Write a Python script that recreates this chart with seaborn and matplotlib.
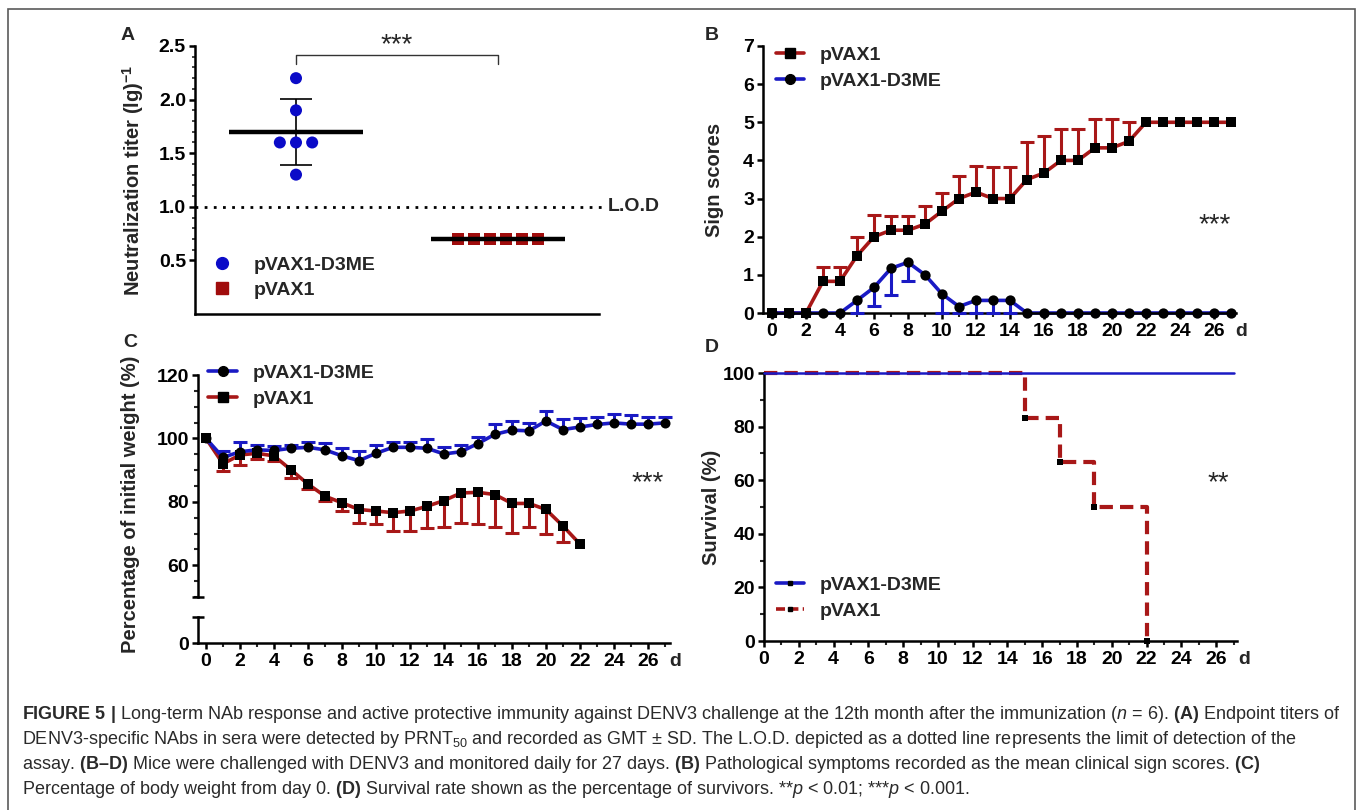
import numpy as np
import pandas as pd
import matplotlib
matplotlib.use("Agg")
import matplotlib.pyplot as plt
import matplotlib.transforms as mtrans
import seaborn as sns
from matplotlib.lines import Line2D
from matplotlib.patches import Rectangle

# ---------------- data ----------------
groups_A = ["pVAX1-D3ME", "pVAX1"]
titer_d3me = [2.2, 1.9, 1.6, 1.6, 1.6, 1.3]
titer_pvax1 = [0.7, 0.7, 0.7, 0.7, 0.7, 0.7]
titer_mean = [1.7, 0.7]
titer_sd = [0.31, 0.0]
lod_value = 1.0
yticks_A = [0.5, 1.0, 1.5, 2.0, 2.5]

days = list(range(28))
sign_pvax1 = [0, 0, 0, 0.83, 0.83, 1.5, 2.0, 2.17, 2.17, 2.33, 2.67, 3.0, 3.17, 3.0,
              3.0, 3.5, 3.67, 4.0, 4.0, 4.33, 4.33, 4.5, 5, 5, 5, 5, 5, 5]
sign_pvax1_sd = [0, 0, 0, 0.37, 0.37, 0.5, 0.58, 0.37, 0.37, 0.47, 0.47, 0.6, 0.68, 0.83,
                 0.83, 0.98, 0.96, 0.83, 0.83, 0.75, 0.75, 0.52, 0, 0, 0, 0, 0, 0]
sign_d3me = [0, 0, 0, 0, 0, 0.33, 0.67, 1.17, 1.33, 1.0, 0.5, 0.17, 0.33, 0.33,
             0.33, 0, 0, 0, 0, 0, 0, 0, 0, 0, 0, 0, 0, 0]
sign_d3me_sd = [0, 0, 0, 0, 0, 0.33, 0.49, 0.69, 0.5, 0, 0.5, 0.17, 0.33, 0.33,
                0.33, 0, 0, 0, 0, 0, 0, 0, 0, 0, 0, 0, 0, 0]

weight_d3me = [100, 94.0, 95.8, 96.4, 96.2, 96.9, 97.2, 96.4, 94.5, 93.0, 95.3, 97.2, 97.2, 96.9,
               95.1, 95.8, 98.4, 101.3, 102.6, 102.4, 105.5, 102.8, 103.6, 104.4, 104.9, 104.5,
               104.5, 104.9]
weight_d3me_sd = [0, 2.0, 3.2, 1.6, 1.3, 1.0, 1.8, 2.2, 2.5, 3.0, 2.7, 1.8, 1.8, 2.8,
                  2.1, 2.2, 2.1, 3.3, 2.9, 2.6, 3.1, 3.2, 2.9, 2.5, 2.9, 2.8, 2.4, 2.0]
days_pvax1_weight = list(range(23))
weight_pvax1 = [100, 92.0, 94.8, 95.3, 94.5, 90.1, 85.6, 81.8, 79.7, 77.6, 77.1, 76.6, 77.1,
                78.6, 80.4, 82.8, 83.0, 82.3, 79.5, 79.5, 77.6, 72.4, 66.7]
weight_pvax1_sd = [0, 2.3, 3.1, 1.9, 1.5, 2.6, 1.6, 1.6, 2.7, 4.2, 4.2, 5.8, 6.3, 7.0,
                   8.2, 9.4, 10.1, 10.1, 9.4, 7.3, 7.6, 5.2, 0]

surv_days_d3me = [0, 27]
surv_d3me = [100, 100]
surv_days_pvax1 = [0, 15, 17, 19, 22]
surv_pvax1 = [100, 83.3, 66.7, 50.0, 0.0]

xticks_days = list(range(0, 27, 2))

# ---------------- style ----------------
sns.set_theme(style="ticks")
plt.rcParams["font.family"] = ["Liberation Sans", "DejaVu Sans"]
plt.rcParams["font.weight"] = "bold"
plt.rcParams["axes.labelweight"] = "bold"
plt.rcParams["mathtext.fontset"] = "custom"
plt.rcParams["mathtext.rm"] = "Liberation Sans:weight=normal"
plt.rcParams["mathtext.it"] = "Liberation Sans:italic:weight=normal"
plt.rcParams["mathtext.bf"] = "Liberation Sans:bold"

RED = "#a81818"
BLUE = "#1a1ac4"
DOT_BLUE = "#0b0bc8"
DOT_RED = "#a00c0c"
TICK_FS = 14
LEG_FS = 14
LAB_FS = 14.5

W, H = 1357, 810
fig = plt.figure(figsize=(W / 100, H / 100), dpi=100)


def px_rect(l, t, r, b):
    return [l / W, 1 - b / H, (r - l) / W, (b - t) / H]


def fx(x):
    return x / W


def fy(y):
    return 1 - y / H


def style_axis(ax):
    for s in ["top", "right"]:
        ax.spines[s].set_visible(False)
    for s in ["left", "bottom"]:
        ax.spines[s].set_linewidth(1.8)
        ax.spines[s].set_color("black")
    ax.tick_params(axis="both", which="major", direction="out", length=4.5, width=1.8,
                   labelsize=TICK_FS, colors="black")
    ax.tick_params(axis="y", which="major", pad=2)
    ax.tick_params(axis="x", which="major", pad=3)
    ax.tick_params(axis="both", which="minor", direction="out", length=2.8, width=1.5)
    ax.set_xlabel("")
    ax.set_ylabel("")
    ax.set_facecolor("none")


def day_axis(ax):
    ax.set_xticks(xticks_days)
    ax.set_xticklabels([str(d) for d in xticks_days], fontweight="bold", fontsize=TICK_FS)
    ax.set_xticks(range(0, 28), minor=True)
    tr = mtrans.offset_copy(ax.get_xaxis_transform(), fig=fig, x=0, y=-7.5, units="points")
    ax.text(27.6, 0, "d", transform=tr, ha="center", va="top", fontsize=TICK_FS,
            fontweight="bold")


def one_sided(ax, x, y, sd, color, direction):
    x = np.asarray(x, float)
    y = np.asarray(y, float)
    sd = np.asarray(sd, float)
    m = sd > 0
    z = np.zeros(m.sum())
    yerr = [z, sd[m]] if direction == "up" else [sd[m], z]
    eb = ax.errorbar(x[m], y[m], yerr=yerr, fmt="none", ecolor=color, elinewidth=2.2,
                     capsize=4.8, capthick=2.2, zorder=3, clip_on=False)
    caps = eb[1]
    if direction == "up":
        caps[0].set_visible(False)
    else:
        caps[1].set_visible(False)


def spread(vals, center, step):
    vals = np.asarray(vals, float)
    xs = np.full(len(vals), float(center))
    for v in np.unique(vals):
        idx = np.where(vals == v)[0]
        n = len(idx)
        xs[idx] = center + (np.arange(n) - (n - 1) / 2) * step
    return xs


# ---------------- Panel A ----------------
axA = fig.add_axes(px_rect(195, 46, 599, 314))
dfA = pd.DataFrame({
    "x": np.concatenate([spread(titer_d3me, 0, 0.08), spread(titer_pvax1, 1, 0.08)]),
    "titer": titer_d3me + titer_pvax1,
    "group": [groups_A[0]] * len(titer_d3me) + [groups_A[1]] * len(titer_pvax1),
})
sns.scatterplot(data=dfA, x="x", y="titer", hue="group", style="group",
                markers={groups_A[0]: "o", groups_A[1]: "s"},
                palette={groups_A[0]: DOT_BLUE, groups_A[1]: DOT_RED},
                s=75, linewidth=0, legend=False, ax=axA, zorder=3)
axA.hlines(titer_mean, [i - 0.33 for i in range(2)], [i + 0.33 for i in range(2)],
           colors="black", linewidth=3.2, zorder=4)
axA.errorbar([0], [titer_mean[0]], yerr=[titer_sd[0]], fmt="none", ecolor="black",
             elinewidth=1.2, capsize=11.5, capthick=1.2, zorder=2)
axA.plot([-0.5, 1.52], [lod_value, lod_value], color="black", lw=2,
         linestyle=(0, (1, 2.3)), clip_on=False, zorder=1)
axA.annotate("L.O.D", xy=(1.5, lod_value), xytext=(6, 0), textcoords="offset points",
             ha="left", va="center", fontsize=14, fontweight="bold", annotation_clip=False)
axA.plot([0, 0, 1, 1], [2.33, 2.416, 2.416, 2.33], color="#333333", lw=1.0, clip_on=False)
axA.text(0.5, 2.44, "***", ha="center", va="baseline", fontsize=20, fontweight="normal")
axA.set_xlim(-0.5, 1.5)
axA.set_ylim(0, 2.5)
style_axis(axA)
axA.set_yticks(yticks_A)
axA.set_yticklabels([f"{v:.1f}" for v in yticks_A], fontweight="bold", fontsize=TICK_FS)
axA.set_yticks(np.arange(0.5, 2.51, 0.1), minor=True)
axA.tick_params(axis="y", which="minor", length=2, width=1.2)
axA.set_xticks([])
axA.legend(handles=[Line2D([], [], ls="none", marker="o", color=DOT_BLUE, ms=8.5),
                    Line2D([], [], ls="none", marker="s", color=DOT_RED, ms=8.3)],
           labels=groups_A, loc="upper left", bbox_to_anchor=(fx(212), fy(256)),
           bbox_transform=fig.transFigure, frameon=False,
           handlelength=1.0, handletextpad=1.15, labelspacing=0.4, borderpad=0,
           borderaxespad=0, prop={"weight": "bold", "size": LEG_FS})
fig.text(fx(133), fy(180), r"Neutralization titer (lg)$^{\mathbf{-1}}$", rotation=90,
         ha="center", va="center", fontsize=LAB_FS, fontweight="bold")

# ---------------- Panel B ----------------
axB = fig.add_axes(px_rect(763, 46, 1236, 313))
sns.lineplot(x=days, y=sign_pvax1, color=RED, lw=2.6, ax=axB, zorder=2, clip_on=False)
one_sided(axB, days, sign_pvax1, sign_pvax1_sd, RED, "up")
sns.lineplot(x=days, y=sign_d3me, color=BLUE, lw=2.6, ax=axB, zorder=2, clip_on=False)
one_sided(axB, days, sign_d3me, sign_d3me_sd, BLUE, "down")
sns.scatterplot(x=days, y=sign_d3me, marker="o", color="black", s=55, linewidth=0,
                ax=axB, zorder=5, clip_on=False)
sns.scatterplot(x=days, y=sign_pvax1, marker="s", color="black", s=58, linewidth=0,
                ax=axB, zorder=5, clip_on=False)
axB.set_xlim(-0.53, 27.3)
axB.set_ylim(0, 7)
style_axis(axB)
axB.set_yticks(range(0, 8))
axB.set_yticklabels([str(v) for v in range(0, 8)], fontweight="bold", fontsize=TICK_FS)
day_axis(axB)
axB.legend(handles=[Line2D([], [], color=RED, lw=2.6, marker="s", mfc="black", mec="black", ms=7),
                    Line2D([], [], color=BLUE, lw=2.6, marker="o", mfc="black", mec="black", ms=7)],
           labels=["pVAX1", "pVAX1-D3ME"], loc="upper left", bbox_to_anchor=(fx(776), fy(46)),
           bbox_transform=fig.transFigure, frameon=False, handlelength=1.45,
           handletextpad=0.8, labelspacing=0.45, borderpad=0, borderaxespad=0,
           prop={"weight": "bold", "size": LEG_FS})
axB.text(0.955, 0.33, "***", transform=axB.transAxes, ha="center", va="center",
         fontsize=20, fontweight="normal")
fig.text(fx(714), fy(180), "Sign scores", rotation=90, ha="center", va="center",
         fontsize=LAB_FS, fontweight="bold")

# ---------------- Panel C ----------------
axC = fig.add_axes(px_rect(198, 375, 670, 597))
axC0 = fig.add_axes(px_rect(198, 617, 670, 643))
sns.lineplot(x=days_pvax1_weight, y=weight_pvax1, color=RED, lw=2.6, ax=axC, zorder=2)
one_sided(axC, days_pvax1_weight, weight_pvax1, weight_pvax1_sd, RED, "down")
sns.lineplot(x=days, y=weight_d3me, color=BLUE, lw=2.6, ax=axC, zorder=2)
one_sided(axC, days, weight_d3me, weight_d3me_sd, BLUE, "up")
sns.scatterplot(x=days_pvax1_weight, y=weight_pvax1, marker="s", color="black", s=52,
                linewidth=0, ax=axC, zorder=5, clip_on=False)
sns.scatterplot(x=days, y=weight_d3me, marker="o", color="black", s=52, linewidth=0,
                ax=axC, zorder=5, clip_on=False)
for a in (axC, axC0):
    a.set_xlim(-0.47, 27.3)
axC.set_ylim(50, 120)
axC0.set_ylim(0, 8.2)
style_axis(axC)
style_axis(axC0)
axC.spines["bottom"].set_visible(False)
axC.set_xticks([])
axC.set_yticks([60, 80, 100, 120])
axC.set_yticklabels(["60", "80", "100", "120"], fontweight="bold", fontsize=TICK_FS)
axC.set_yticks(range(50, 121, 5), minor=True)
axC0.set_yticks([0])
axC0.set_yticklabels(["0"], fontweight="bold", fontsize=TICK_FS)
day_axis(axC0)
axC.plot([0], [0], transform=axC.transAxes, marker="_", ms=9, mew=1.8, color="black",
         clip_on=False)
axC0.plot([0], [1], transform=axC0.transAxes, marker="_", ms=9, mew=1.8, color="black",
          clip_on=False)
axC.legend(handles=[Line2D([], [], color=BLUE, lw=2.6, marker="o", mfc="black", mec="black", ms=7),
                    Line2D([], [], color=RED, lw=2.6, marker="s", mfc="black", mec="black", ms=7)],
           labels=["pVAX1-D3ME", "pVAX1"], loc="upper left", bbox_to_anchor=(fx(208), fy(364)),
           bbox_transform=fig.transFigure, frameon=False, handlelength=1.5,
           handletextpad=0.8, labelspacing=0.45, borderpad=0, borderaxespad=0,
           prop={"weight": "bold", "size": LEG_FS})
fig.text(fx(648), fy(483), "***", ha="center", va="center", fontsize=20, fontweight="normal")
fig.text(fx(131), fy(504), "Percentage of initial weight (%)", rotation=90, ha="center",
         va="center", fontsize=LAB_FS, fontweight="bold")

# ---------------- Panel D ----------------
axD = fig.add_axes(px_rect(764, 373, 1237, 641))
sns.lineplot(x=surv_days_pvax1, y=surv_pvax1, drawstyle="steps-post", color=RED, lw=3,
             linestyle=(0, (3.2, 1.7)), ax=axD, zorder=2, clip_on=False)
sns.lineplot(x=surv_days_d3me, y=surv_d3me, color=BLUE, lw=1.8, ax=axD, zorder=3,
             clip_on=False)
sns.scatterplot(x=surv_days_pvax1[1:], y=surv_pvax1[1:], marker="s", color="black", s=14,
                linewidth=0, ax=axD, zorder=4, clip_on=False)
axD.set_xlim(0, 27.2)
axD.set_ylim(0, 100)
style_axis(axD)
axD.set_yticks(range(0, 101, 20))
axD.set_yticklabels([str(v) for v in range(0, 101, 20)], fontweight="bold", fontsize=TICK_FS)
axD.set_yticks(range(0, 101, 10), minor=True)
day_axis(axD)
axD.legend(handles=[Line2D([], [], color=BLUE, lw=2.6, marker="s", mfc="black", mec="black", ms=3),
                    Line2D([], [], color=RED, lw=2.6, ls=(0, (2.5, 1.2)), marker="s",
                           mfc="black", mec="black", ms=3)],
           labels=["pVAX1-D3ME", "pVAX1"], loc="upper left", bbox_to_anchor=(fx(776), fy(576)),
           bbox_transform=fig.transFigure, frameon=False, handlelength=1.45,
           handletextpad=0.8, labelspacing=0.45, borderpad=0, borderaxespad=0,
           prop={"weight": "bold", "size": LEG_FS})
fig.text(fx(1218), fy(483), "**", ha="center", va="center", fontsize=20, fontweight="normal")
fig.text(fx(711), fy(507), "Survival (%)", rotation=90, ha="center", va="center",
         fontsize=LAB_FS, fontweight="bold")

# panel letters
for lab, (x, y) in {"A": (128, 35), "B": (712, 35), "C": (130, 343), "D": (712, 347)}.items():
    fig.text(fx(x), fy(y), lab, ha="center", va="center", fontsize=14, fontweight="bold")

# ---------------- caption ----------------
cap_lines = [
    r"$\mathbf{FIGURE\ 5\ |}$ Long-term NAb response and active protective immunity against DENV3 "
    r"challenge at the 12th month after the immunization ($\mathit{n}$ = 6). $\mathbf{(A)}$ Endpoint titers of",
    r"DENV3-specific NAbs in sera were detected by PRNT$_{50}$ and recorded as GMT ± SD. The L.O.D. "
    r"depicted as a dotted line represents the limit of detection of the",
    r"assay. $\mathbf{(B–D)}$ Mice were challenged with DENV3 and monitored daily for 27 days. "
    r"$\mathbf{(B)}$ Pathological symptoms recorded as the mean clinical sign scores. $\mathbf{(C)}$",
    r"Percentage of body weight from day 0. $\mathbf{(D)}$ Survival rate shown as the percentage of "
    r"survivors. **$\mathit{p}$ < 0.01; ***$\mathit{p}$ < 0.001.",
]
for i, line in enumerate(cap_lines):
    fig.text(fx(22), fy(719 + 25 * i), line, ha="left", va="baseline", fontsize=13,
             fontweight="normal", color="#2a2a2a")

# figure border
fig.patches.append(Rectangle((fx(8), -0.02), fx(1355) - fx(8), fy(9) + 0.02,
                             transform=fig.transFigure, fill=False, edgecolor="#5a5a5a",
                             lw=1.2))

fig.savefig("out.png", dpi=100)
